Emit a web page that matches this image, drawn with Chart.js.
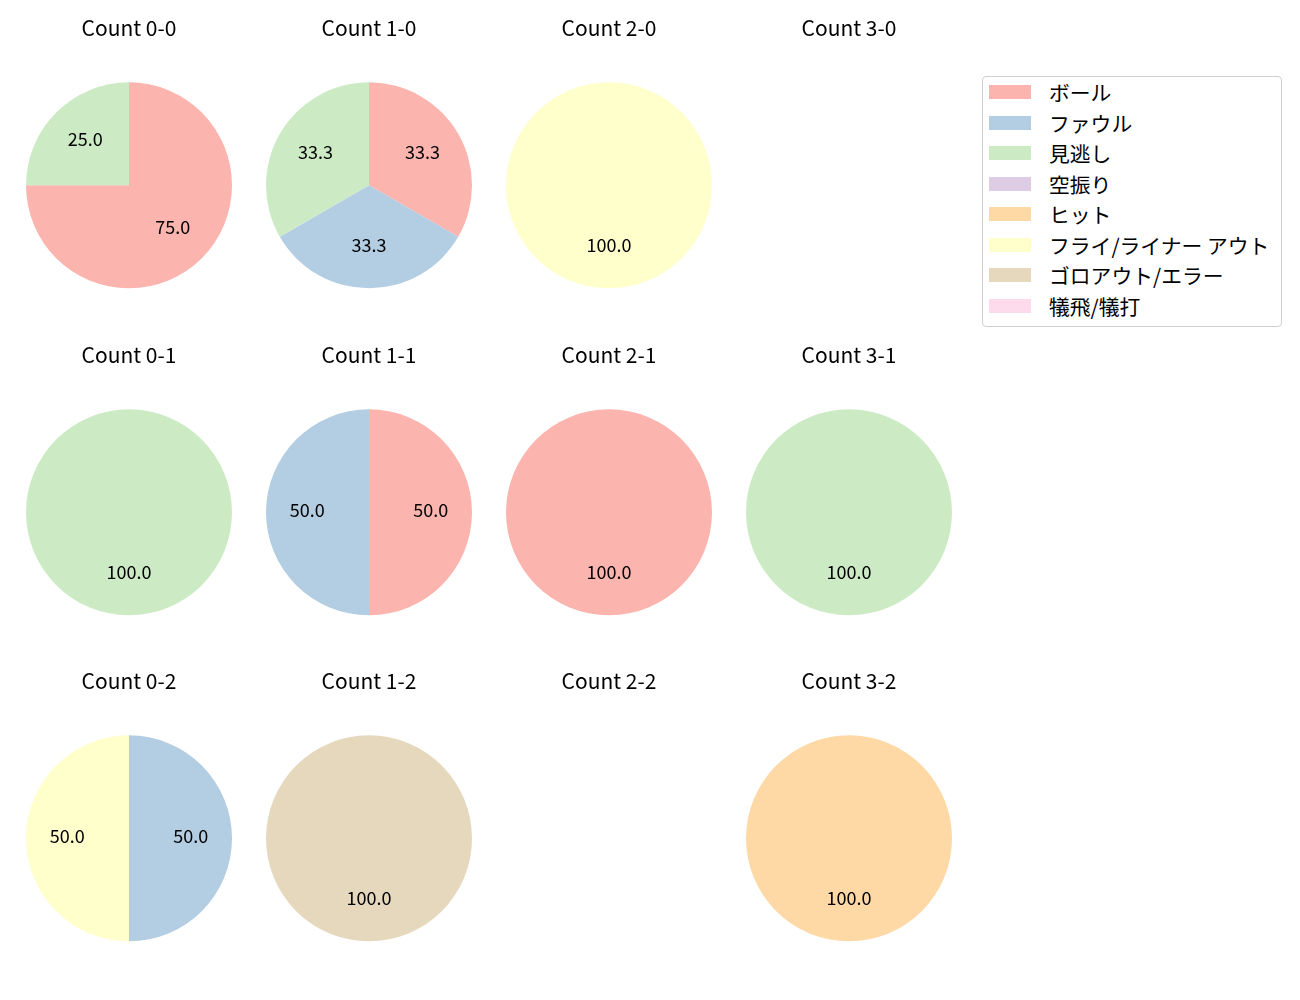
<!DOCTYPE html>
<html>
<head>
<meta charset="utf-8">
<script src="https://cdn.jsdelivr.net/npm/chart.js@4.4.1/dist/chart.umd.min.js"></script>
<style>
  body { margin: 0; background: #fff; font-family: "Noto Sans CJK JP", "Noto Sans", sans-serif; }
  #wrap { position: relative; width: 1300px; height: 1000px; }
  canvas { position: absolute; }
  #legend {
    position: absolute; left: 982px; top: 76px; width: 300px; height: 251px;
    border: 1px solid #d0d0d0; border-radius: 4px; box-sizing: border-box; background: rgba(255,255,255,0.8);
  }
  .item { position: absolute; left: 6px; height: 30px; display: flex; align-items: center; font-size: 20.8px; color: #000; white-space: nowrap; }
  .swatch { width: 42px; height: 14px; margin-right: 18px; flex: none; }
</style>
</head>
<body>
<div id="wrap">
  <div id="legend"></div>
</div>
<script>
// 結果カテゴリ
const categories = ['ボール', 'ファウル', '見逃し', '空振り', 'ヒット', 'フライ/ライナー アウト', 'ゴロアウト/エラー', '犠飛/犠打'];
const colors = ['#fbb4ae', '#b3cde3', '#ccebc5', '#decbe4', '#fed9a6', '#ffffcc', '#e5d8bd', '#fddaec'];

// カウント別の件数（categoriesと同じ順）
const count00 = [3, 0, 1, 0, 0, 0, 0, 0];
const count10 = [1, 1, 1, 0, 0, 0, 0, 0];
const count20 = [0, 0, 0, 0, 0, 1, 0, 0];
const count30 = [0, 0, 0, 0, 0, 0, 0, 0];
const count01 = [0, 0, 1, 0, 0, 0, 0, 0];
const count11 = [1, 1, 0, 0, 0, 0, 0, 0];
const count21 = [1, 0, 0, 0, 0, 0, 0, 0];
const count31 = [0, 0, 1, 0, 0, 0, 0, 0];
const count02 = [0, 1, 0, 0, 0, 1, 0, 0];
const count12 = [0, 0, 0, 0, 0, 0, 1, 0];
const count22 = [0, 0, 0, 0, 0, 0, 0, 0];
const count32 = [0, 0, 0, 0, 1, 0, 0, 0];

const panels = [
  ['Count 0-0', count00], ['Count 1-0', count10], ['Count 2-0', count20], ['Count 3-0', count30],
  ['Count 0-1', count01], ['Count 1-1', count11], ['Count 2-1', count21], ['Count 3-1', count31],
  ['Count 0-2', count02], ['Count 1-2', count12], ['Count 2-2', count22], ['Count 3-2', count32]
];

const FONT = '"Noto Sans CJK JP", "Noto Sans", sans-serif';

// パーセント表示（半径の0.6の位置）
const pctLabels = {
  id: 'pctLabels',
  afterDatasetsDraw(chart) {
    const ctx = chart.ctx;
    const data = chart.data.datasets[0].data;
    const total = data.reduce((a, b) => a + b, 0);
    if (!total) return;
    ctx.save();
    ctx.font = '18px ' + FONT;
    ctx.fillStyle = '#000';
    ctx.textAlign = 'center';
    ctx.textBaseline = 'middle';
    chart.getDatasetMeta(0).data.forEach((arc, i) => {
      if (!data[i]) return;
      const mid = (arc.startAngle + arc.endAngle) / 2;
      const r = arc.outerRadius * 0.6;
      ctx.fillText((data[i] / total * 100).toFixed(1), arc.x + Math.cos(mid) * r, arc.y + Math.sin(mid) * r - 2);
    });
    ctx.restore();
  }
};

const wrap = document.getElementById('wrap');
const colLeft = [9, 249, 489, 729];
const rowTop = [0, 327, 653];

panels.forEach((p, idx) => {
  const canvas = document.createElement('canvas');
  canvas.width = 240;
  canvas.height = 290;
  canvas.style.left = colLeft[idx % 4] + 'px';
  canvas.style.top = rowTop[Math.floor(idx / 4)] + 'px';
  wrap.appendChild(canvas);

  new Chart(canvas.getContext('2d'), {
    type: 'pie',
    data: {
      labels: categories,
      datasets: [{
        data: p[1],
        backgroundColor: colors,
        borderWidth: 0
      }]
    },
    options: {
      responsive: false,
      animation: false,
      events: [],
      layout: { padding: { left: 17, right: 17, top: 0, bottom: 1 } },
      plugins: {
        legend: { display: false },
        tooltip: { enabled: false },
        title: {
          display: true,
          text: p[0],
          color: '#000',
          font: { family: FONT, size: 21, weight: 'normal' },
          padding: { top: 15, bottom: 41.5 }
        }
      }
    },
    plugins: [pctLabels]
  });
});

// 凡例
const legend = document.getElementById('legend');
categories.forEach((c, i) => {
  const item = document.createElement('div');
  item.className = 'item';
  item.style.top = (0 + i * 30.5) + 'px';
  item.innerHTML = '<div class="swatch" style="background:' + colors[i] + '"></div><span>' + c + '</span>';
  legend.appendChild(item);
});
</script>
</body>
</html>
